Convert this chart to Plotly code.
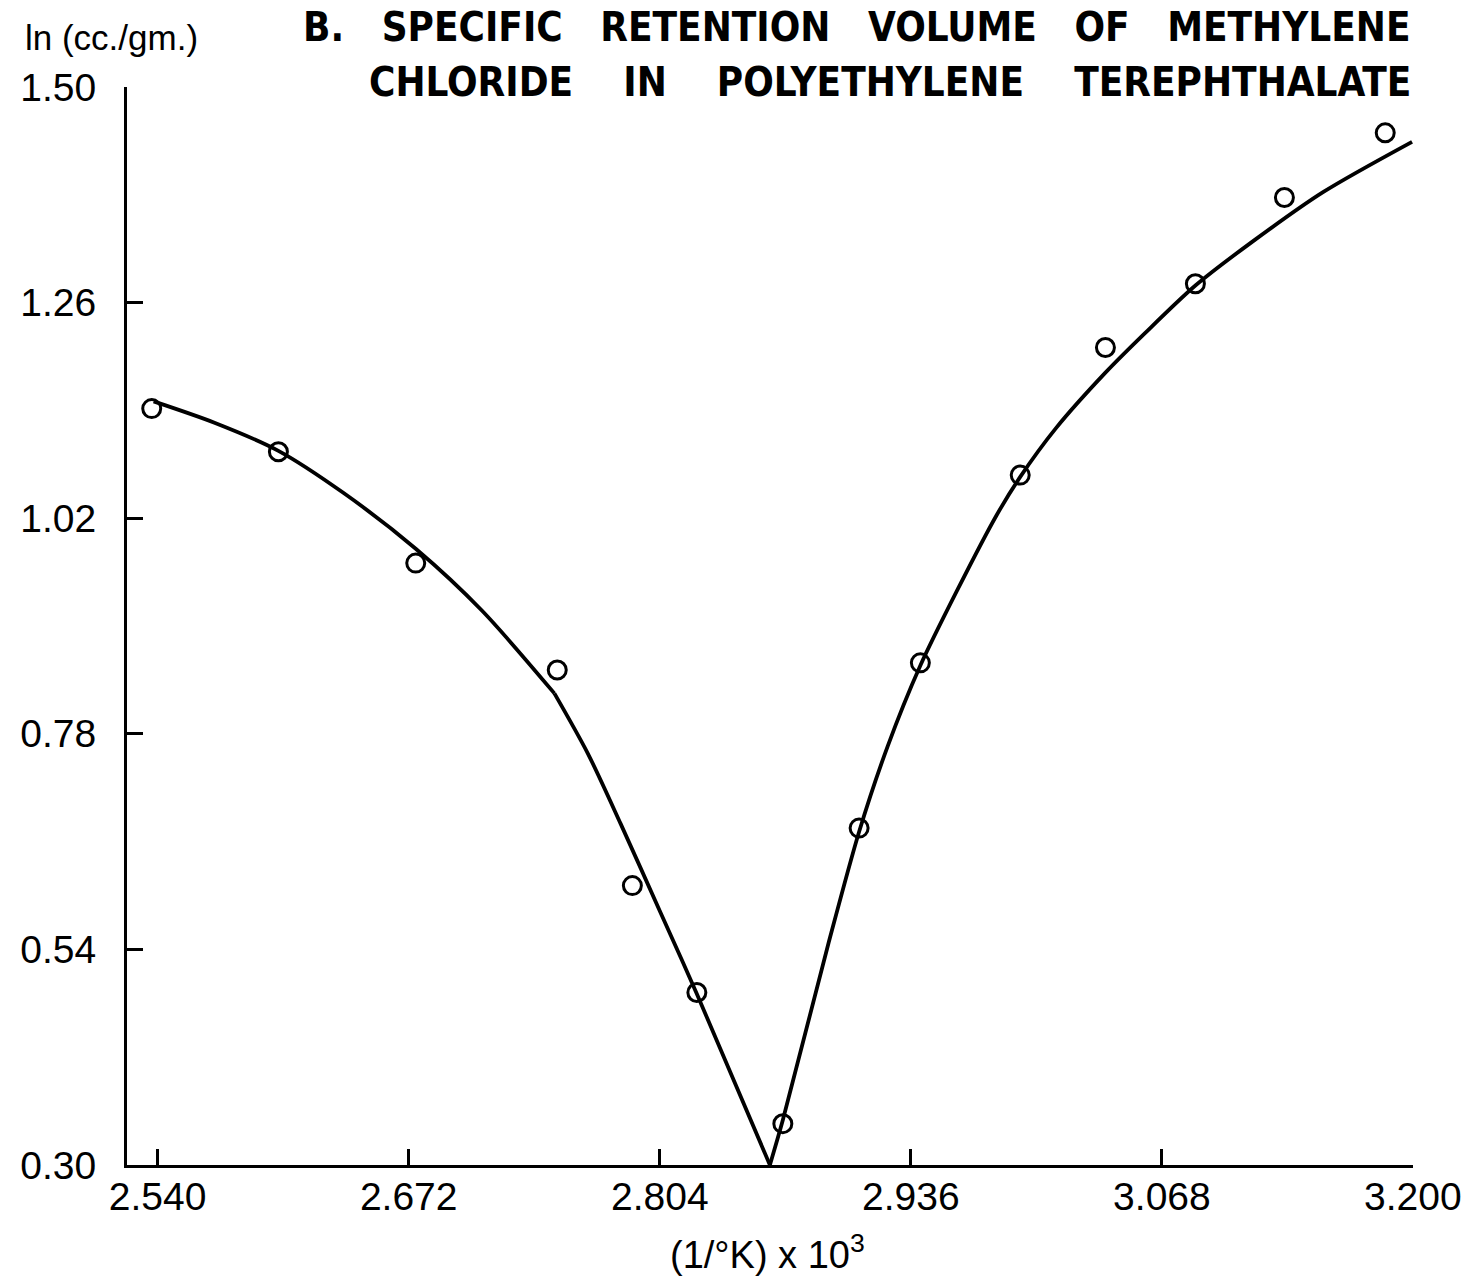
import plotly.graph_objects as go

# Observed data points (circles)
x_obs = [2.5369, 2.6035, 2.6757, 2.7501, 2.7896, 2.8235, 2.8687,
         2.9088, 2.9410, 2.9935, 3.0383, 3.0856, 3.1324, 3.1854]
y_obs = [1.142, 1.094, 0.970, 0.851, 0.611, 0.492, 0.346,
         0.675, 0.859, 1.068, 1.210, 1.281, 1.377, 1.449]

# Hand-drawn fitted curve
curve_a_x = [2.5379, 2.5702, 2.6035, 2.6378, 2.6757, 2.7106, 2.7486]
curve_a_y = [1.150, 1.126, 1.095, 1.048, 0.986, 0.917, 0.825]
curve_b_x = [2.7486, 2.7662, 2.7834, 2.8042, 2.8234, 2.8619]
curve_b_y = [0.825, 0.758, 0.680, 0.582, 0.491, 0.300]
curve_c_x = [2.8619, 2.8687, 2.8926, 2.9088, 2.9238, 2.9410, 2.9602, 2.9810,
             2.9935, 3.0122, 3.0383, 3.0591, 3.0856, 3.1163, 3.1527, 3.1995]
curve_c_y = [0.300, 0.350, 0.546, 0.671, 0.766, 0.856, 0.939, 1.023,
             1.066, 1.120, 1.182, 1.226, 1.279, 1.329, 1.383, 1.439]

x_tick_vals = [2.540, 2.672, 2.804, 2.936, 3.068, 3.1999]
x_tick_text = ["2.540", "2.672", "2.804", "2.936", "3.068", "3.200"]
y_tick_vals = [0.30, 0.54, 0.78, 1.02, 1.26, 1.4999]
y_tick_text = ["0.30", "0.54", "0.78", "1.02", "1.26", "1.50"]

GAP1 = "\u00a0\u00a0\u00a0"
GAP2 = "\u00a0\u00a0\u00a0\u00a0"
title_line1 = GAP1.join(["B.", "SPECIFIC", "RETENTION", "VOLUME", "OF", "METHYLENE"])
title_line2 = GAP2.join(["CHLORIDE", "IN", "POLYETHYLENE", "TEREPHTHALATE"])
y_title = "ln (cc./gm.)"
x_title = "(1/°K) x 10<sup>3</sup>"

TXT = "Liberation Sans, Arial, sans-serif"
TITLE_FONT = "DejaVu Sans Condensed, Arial Narrow, sans-serif"

fig = go.Figure()
line_style = dict(color="black", width=3.8, shape="spline", smoothing=0.8)
for cx, cy in [(curve_a_x, curve_a_y), (curve_b_x, curve_b_y), (curve_c_x, curve_c_y)]:
    fig.add_trace(go.Scatter(x=cx, y=cy, mode="lines", line=line_style,
                             showlegend=False, hoverinfo="skip"))

fig.add_trace(go.Scatter(
    x=x_obs, y=y_obs, mode="markers",
    marker=dict(symbol="circle-open", size=18, color="black",
                line=dict(color="black", width=3)),
    showlegend=False))

# The page body has an 8 px margin, so the figure is sized to fit inside.
fig.update_layout(
    width=1466, height=1272,
    margin=dict(l=110, r=48, t=79, b=115),
    paper_bgcolor="white", plot_bgcolor="white",
    xaxis=dict(range=[2.5239, 3.200], showgrid=False, zeroline=False,
               showline=True, linecolor="black", linewidth=3,
               ticks="inside", ticklen=16, tickwidth=3, tickcolor="black",
               tickvals=x_tick_vals, ticktext=x_tick_text,
               tickfont=dict(family=TXT, size=39, color="black"),
               ticklabelstandoff=-5, ticklabeloverflow="allow"),
    yaxis=dict(range=[0.30, 1.50], showgrid=False, zeroline=False,
               showline=True, linecolor="black", linewidth=3,
               ticks="inside", ticklen=16, tickwidth=3, tickcolor="black",
               tickvals=y_tick_vals, ticktext=y_tick_text,
               tickfont=dict(family=TXT, size=39, color="black"),
               ticklabelstandoff=20, ticklabeloverflow="allow"),
    annotations=[
        dict(text=title_line1, xref="paper", yref="paper", x=1.0, y=1.0557,
             xanchor="right", yanchor="middle", showarrow=False,
             font=dict(family=TITLE_FONT, size=40, color="black", weight="bold")),
        dict(text=title_line2, xref="paper", yref="paper", x=1.0, y=1.0046,
             xanchor="right", yanchor="middle", showarrow=False,
             font=dict(family=TITLE_FONT, size=40, color="black", weight="bold")),
        dict(text=y_title, xref="paper", yref="paper", x=-0.0805, y=1.0455,
             xanchor="left", yanchor="middle", showarrow=False,
             font=dict(family=TXT, size=35, color="black")),
        dict(text=x_title, xref="paper", yref="paper", x=0.4977, y=-0.081,
             xanchor="center", yanchor="middle", showarrow=False,
             font=dict(family=TXT, size=38, color="black")),
    ],
)

fig.write_html("out.html")
